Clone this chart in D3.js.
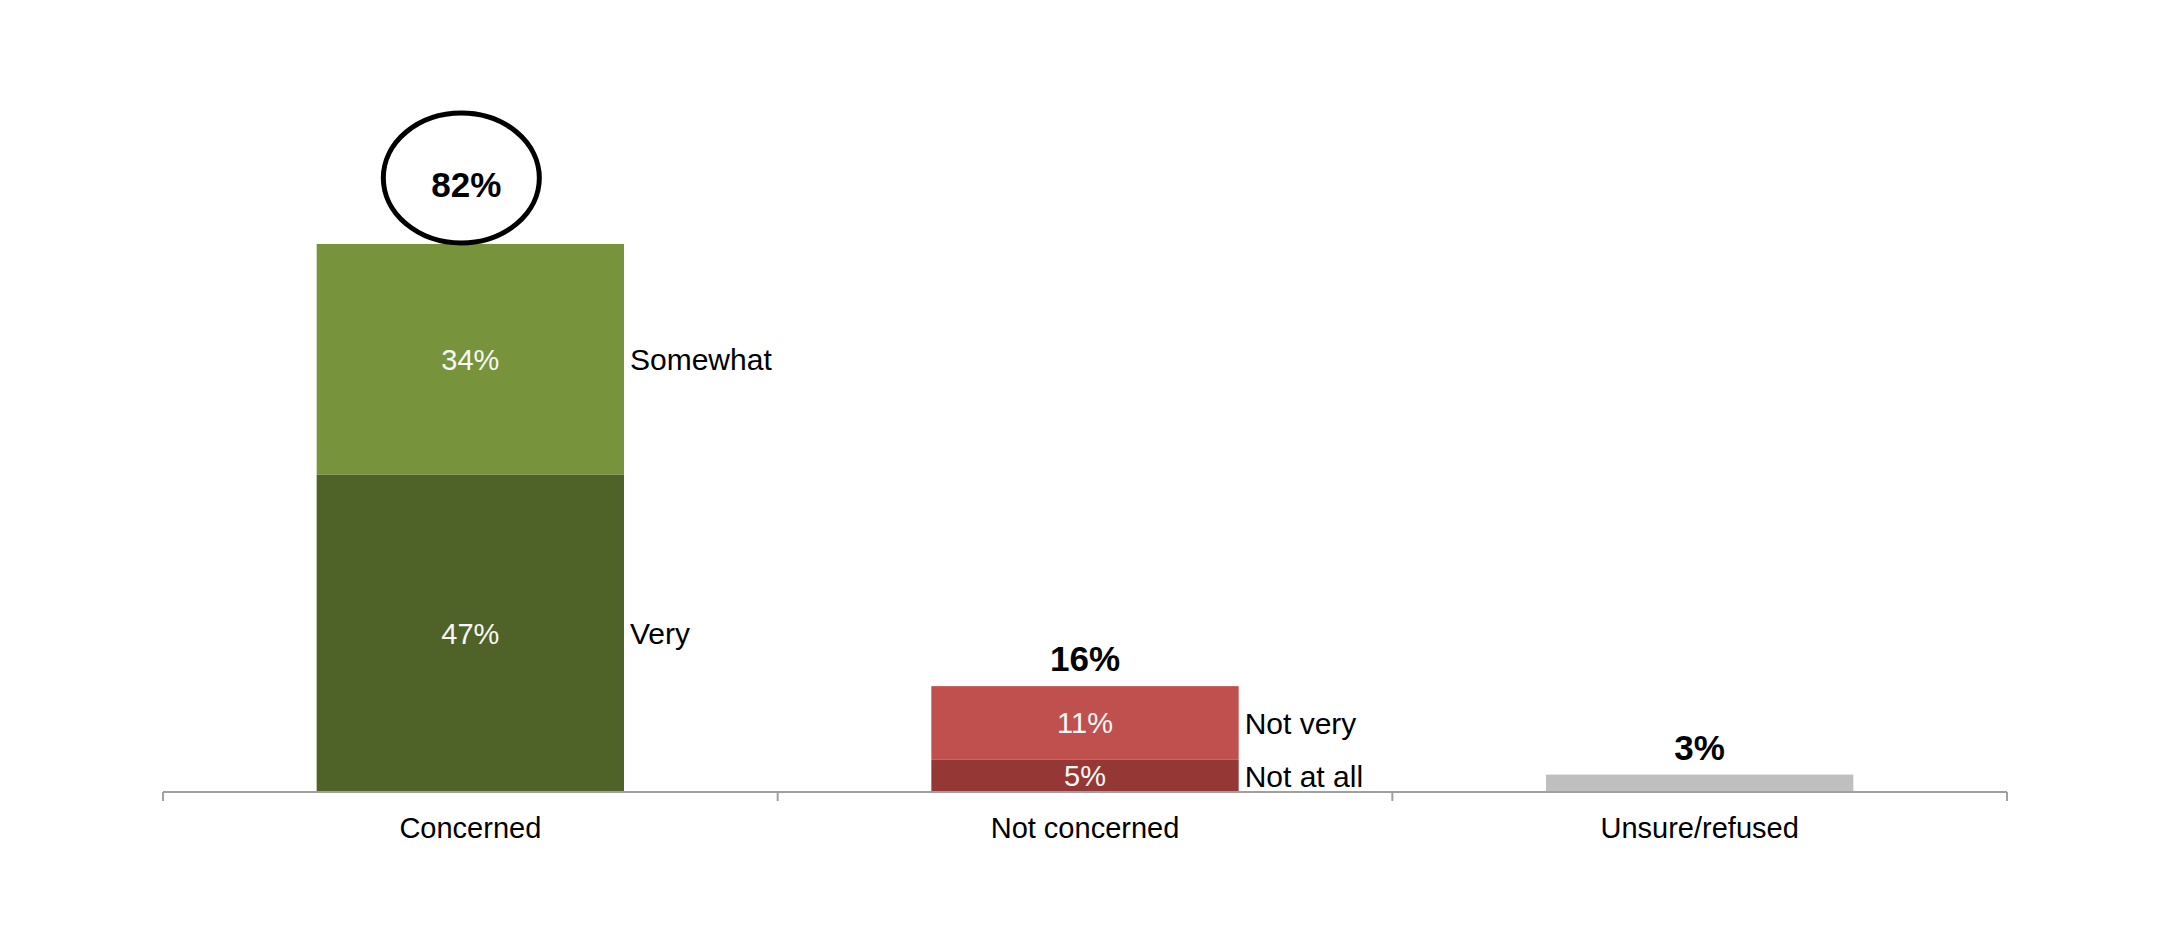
<!DOCTYPE html>
<html>
<head>
<meta charset="utf-8">
<script src="https://cdn.jsdelivr.net/npm/d3@7"></script>
<style>
    body { margin: 0; background: #fff; }
    text { font-family: "Liberation Sans", Arial, sans-serif; }
</style>
</head>
<body>
<div id="chart"></div>
<script>
// Chart data
const categories = ['Concerned', 'Not concerned', 'Unsure/refused'];
const lowerValues = [47.4, 4.8, 2.6];
const upperValues = [34.4, 11.0, 0];
const lowerNames = ['Very', 'Not at all', ''];
const upperNames = ['Somewhat', 'Not very', ''];
const lowerColors = ['#4f6228', '#953735', '#bfbfbf'];
const upperColors = ['#77933c', '#c0504d', '#bfbfbf'];
const highlighted = ['Concerned'];

const width = 2173, height = 948;
const axisY = 792;

const svg = d3.select('#chart').append('svg')
    .attr('width', width)
    .attr('height', height);

const x = d3.scaleBand()
    .domain(categories)
    .range([163, 2007])
    .paddingInner(0.5)
    .paddingOuter(0.25);

const y = d3.scaleLinear()
    .domain([0, 100])
    .range([axisY, axisY - 670]);

// build stacked rows from the arrays
const rows = categories.map((c, i) => ({
    cat: c,
    segs: [
        { v0: 0, v1: lowerValues[i], value: lowerValues[i], name: lowerNames[i], color: lowerColors[i] },
        { v0: lowerValues[i], v1: lowerValues[i] + upperValues[i], value: upperValues[i], name: upperNames[i], color: upperColors[i] }
    ].filter(s => s.value > 0),
    total: lowerValues[i] + upperValues[i]
}));

const groups = svg.selectAll('.cat')
    .data(rows)
    .enter().append('g')
    .attr('class', 'cat');

groups.selectAll('rect')
    .data(d => d.segs.map(s => Object.assign({ cat: d.cat }, s)))
    .enter().append('rect')
    .attr('x', d => x(d.cat))
    .attr('width', x.bandwidth())
    .attr('y', d => y(d.v1))
    .attr('height', d => y(d.v0) - y(d.v1))
    .attr('fill', d => d.color);

// value labels inside segments (not for the thin unsure bar)
groups.selectAll('.seg-value')
    .data(d => d.segs.filter(s => s.name !== '').map(s => Object.assign({ cat: d.cat }, s)))
    .enter().append('text')
    .attr('class', 'seg-value')
    .attr('x', d => x(d.cat) + x.bandwidth() / 2)
    .attr('y', d => (y(d.v0) + y(d.v1)) / 2)
    .attr('dy', '0.36em')
    .attr('text-anchor', 'middle')
    .attr('font-size', '29px')
    .attr('fill', '#f7f7f7')
    .text(d => Math.round(d.value) + '%');

// series names to the right of each segment
groups.selectAll('.seg-name')
    .data(d => d.segs.filter(s => s.name !== '').map(s => Object.assign({ cat: d.cat }, s)))
    .enter().append('text')
    .attr('class', 'seg-name')
    .attr('x', d => x(d.cat) + x.bandwidth() + 6)
    .attr('y', d => (y(d.v0) + y(d.v1)) / 2)
    .attr('dy', '0.36em')
    .attr('font-size', '30px')
    .attr('fill', '#000')
    .text(d => d.name);

// totals above bars; the highlighted one sits in an ellipse
groups.each(function (d) {
    const g = d3.select(this);
    const cx = x(d.cat) + x.bandwidth() / 2;
    if (highlighted.includes(d.cat)) {
        const ey = y(d.total) - 66;
        g.append('ellipse')
            .attr('cx', cx - 9)
            .attr('cy', ey)
            .attr('rx', 78)
            .attr('ry', 65)
            .attr('fill', 'none')
            .attr('stroke', '#000')
            .attr('stroke-width', 5);
        g.append('text')
            .attr('x', cx - 4)
            .attr('y', ey + 19)
            .attr('text-anchor', 'middle')
            .attr('font-size', '35px')
            .attr('font-weight', 'bold')
            .text(Math.round(d.total) + '%');
    } else {
        g.append('text')
            .attr('x', cx)
            .attr('y', y(d.total) - 15)
            .attr('text-anchor', 'middle')
            .attr('font-size', '35px')
            .attr('font-weight', 'bold')
            .text(Math.round(d.total) + '%');
    }
});

// category axis, ticks sit between categories
const axisColor = '#a0a0a0';

svg.append('line')
    .attr('x1', x.range()[0])
    .attr('x2', x.range()[1])
    .attr('y1', axisY)
    .attr('y2', axisY)
    .attr('stroke', axisColor)
    .attr('stroke-width', 2);

svg.selectAll('.tick')
    .data(d3.range(categories.length + 1))
    .enter().append('line')
    .attr('class', 'tick')
    .attr('x1', i => x.range()[0] + i * x.step())
    .attr('x2', i => x.range()[0] + i * x.step())
    .attr('y1', axisY)
    .attr('y2', axisY + 9)
    .attr('stroke', axisColor)
    .attr('stroke-width', 2);

svg.selectAll('.cat-label')
    .data(categories)
    .enter().append('text')
    .attr('class', 'cat-label')
    .attr('x', d => x(d) + x.bandwidth() / 2)
    .attr('y', axisY + 46)
    .attr('text-anchor', 'middle')
    .attr('font-size', '29px')
    .attr('fill', '#000')
    .text(d => d);
</script>
</body>
</html>
